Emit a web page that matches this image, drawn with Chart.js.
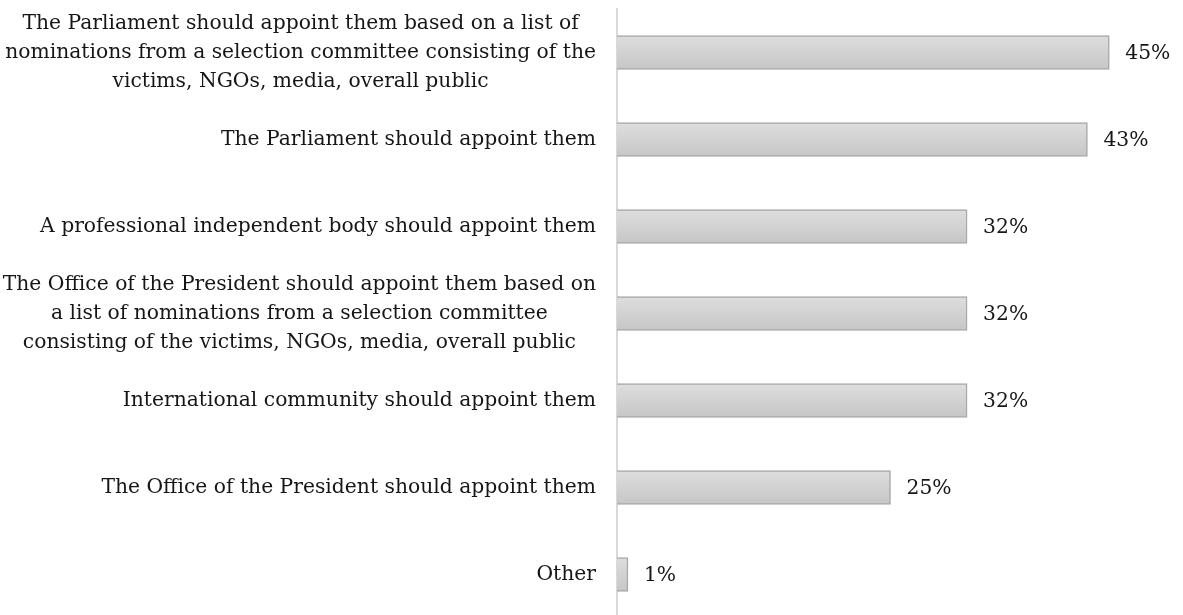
<!DOCTYPE html>
<html>
<head>
<meta charset="utf-8">
<script src="https://cdn.jsdelivr.net/npm/chart.js@4/dist/chart.umd.min.js"></script>
<style>
  html, body { margin: 0; padding: 0; background: #fff; overflow: hidden; }
  #wrap { width: 1183px; height: 618px; position: relative; }
</style>
</head>
<body>
<div id="wrap"><canvas id="appointChart"></canvas></div>
<script>
const categories = [
  ['The Parliament should appoint them based on a list of', 'nominations from a selection committee consisting of the', 'victims, NGOs, media, overall public'],
  ['The Parliament should appoint them'],
  ['A professional independent body should appoint them'],
  ['The Office of the President should appoint them based on', 'a list of nominations from a selection committee', 'consisting of the victims, NGOs, media, overall public'],
  ['International community should appoint them'],
  ['The Office of the President should appoint them'],
  ['Other']
];
const shares = [45, 43, 32, 32, 32, 25, 1];
const xMax = 50;

const FONT = "20.3px 'DejaVu Serif', serif";
const TEXT = '#161616';

// category text, each block centred on its widest line and right-aligned to the axis
const categoryLabels = {
  id: 'categoryLabels',
  afterDraw(chart) {
    const { ctx } = chart;
    const y = chart.scales.y;
    const lineH = 29;
    ctx.save();
    ctx.font = FONT;
    ctx.fillStyle = TEXT;
    ctx.textAlign = 'center';
    ctx.textBaseline = 'middle';
    categories.forEach((lines, i) => {
      const cy = y.getPixelForTick(i);
      const w = Math.max(...lines.map(l => ctx.measureText(l).width));
      const cx = chart.chartArea.left - 21 - w / 2;
      const y0 = cy - (lines.length - 1) * lineH / 2;
      lines.forEach((l, k) => ctx.fillText(l, cx, y0 + k * lineH));
    });
    ctx.restore();
  }
};

// percentage next to the end of each bar
const valueLabels = {
  id: 'valueLabels',
  afterDatasetsDraw(chart) {
    const { ctx } = chart;
    const meta = chart.getDatasetMeta(0);
    ctx.save();
    ctx.font = FONT;
    ctx.fillStyle = TEXT;
    ctx.textAlign = 'left';
    ctx.textBaseline = 'middle';
    meta.data.forEach((bar, i) => {
      ctx.fillText(shares[i] + '%', bar.x + 16, bar.y + 1);
    });
    ctx.restore();
  }
};

function barFill(context) {
  const chart = context.chart;
  const y = chart.scales.y;
  if (!y || context.dataIndex === undefined) return '#d0d0d0';
  const cy = y.getPixelForTick(context.dataIndex);
  const g = chart.ctx.createLinearGradient(0, cy - 17, 0, cy + 17);
  g.addColorStop(0, '#dedede');
  g.addColorStop(1, '#c6c6c6');
  return g;
}

new Chart(document.getElementById('appointChart'), {
  type: 'bar',
  data: {
    labels: categories,
    datasets: [{
      data: shares,
      backgroundColor: barFill,
      borderColor: '#a8a8a8',
      borderWidth: 1.5,
      barThickness: 34
    }]
  },
  options: {
    indexAxis: 'y',
    responsive: true,
    maintainAspectRatio: false,
    animation: false,
    layout: { padding: { top: 9, right: 19, bottom: 0, left: 0 } },
    plugins: { legend: { display: false }, tooltip: { enabled: false } },
    scales: {
      x: { display: false, min: 0, max: xMax },
      y: {
        grid: { display: false },
        border: { display: true, color: '#d9d9d9', width: 2 },
        ticks: { display: false },
        afterFit(scale) { scale.width = 617; }
      }
    }
  },
  plugins: [categoryLabels, valueLabels]
});
</script>
</body>
</html>
